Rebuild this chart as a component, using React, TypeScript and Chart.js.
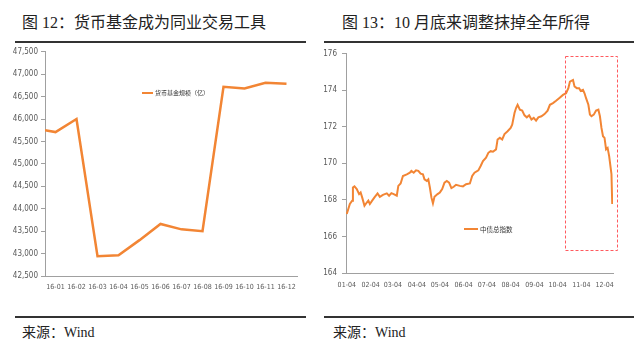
import React, { useEffect, useRef } from 'react';
import { Chart, registerables } from 'chart.js';

Chart.register(...registerables);

// ---------- Figure 12: money-fund size ----------
const fundMonths = ['16-01', '16-02', '16-03', '16-04', '16-05', '16-06', '16-07', '16-08', '16-09', '16-10', '16-11', '16-12'];
const fundStartValue = 45750; // value where the line meets the y axis
const fundValues = [45710, 46000, 42940, 42960, 43300, 43660, 43540, 43500, 46720, 46680, 46810, 46790];
const fundYMin = 42500;
const fundYMax = 47500;
const fundYStep = 500;
const fundLegend = '货币基金规模（亿）';

// ---------- Figure 13: ChinaBond composite index ----------
const bondTickDays = [0, 31, 60, 91, 121, 152, 182, 213, 244, 274, 305, 335];
const bondTickLabels = ['01-04', '02-04', '03-04', '04-04', '05-04', '06-04', '07-04', '08-04', '09-04', '10-04', '11-04', '12-04'];
// days after 2016-01-04
const bondDays = [
  0, 2, 4, 7, 8, 10, 13, 16, 18, 20, 23, 26, 28, 30, 33, 36, 40, 43, 47, 52,
  55, 58, 61, 65, 67, 70, 73, 78, 82, 84, 87, 90, 93, 96, 99, 101, 104, 106, 108, 110,
  112, 114, 118, 121, 124, 127, 130, 133, 136, 139, 142, 147, 151, 155, 160, 163, 166, 171, 174, 177,
  181, 184, 187, 190, 194, 196, 199, 202, 205, 209, 213, 215, 218, 220, 222, 225, 228, 231, 234, 237,
  240, 243, 246, 249, 253, 257, 261, 264, 268, 272, 276, 281, 285, 288, 290, 294, 296, 299, 302, 304,
  307, 309, 311, 314, 316, 318, 321, 324, 327, 329, 331, 333, 335, 337, 339, 341, 344, 345,
];
const bondValues = [
  167.23, 167.5, 167.78, 167.96, 168.68, 168.74, 168.6, 168.32, 168.41, 168.14, 167.68, 167.86, 167.96, 167.78, 167.96, 168.14, 168.36, 168.17, 168.28, 168.36,
  168.23, 168.37, 168.32, 168.23, 168.77, 168.9, 169.31, 169.4, 169.49, 169.59, 169.49, 169.62, 169.59, 169.44, 169.4, 169.13, 169.04, 169.13, 168.68, 168.14,
  167.81, 168.17, 168.32, 168.41, 168.59, 168.95, 169.04, 168.95, 168.65, 168.72, 168.83, 168.77, 168.74, 168.86, 168.9, 169.31, 169.49, 169.62, 169.86, 170.13,
  170.31, 170.58, 170.67, 170.64, 170.77, 171.31, 171.4, 171.31, 171.61, 171.76, 171.94, 172.12, 172.76, 173.03, 173.21, 172.94, 172.89, 172.63, 172.52, 172.63,
  172.4, 172.49, 172.34, 172.52, 172.58, 172.7, 172.89, 173.21, 173.3, 173.43, 173.57, 173.75, 173.84, 174.12, 174.48, 174.57, 174.21, 174.12, 174.12, 173.97,
  174.03, 173.84, 173.57, 173.21, 172.67, 172.58, 172.67, 172.89, 172.94, 172.58, 171.94, 171.49, 171.4, 170.77, 170.85, 170.4, 169.41, 167.78,
];
const bondYMin = 164;
const bondYMax = 176;
const bondYStep = 2;
const bondXMin = -1;
const bondXMax = 346;
const bondLegend = '中债总指数';
// highlighted period (data units)
const highlightDays = [284, 351];
const highlightValues = [165.3, 175.9];

const ORANGE = '#F28534';
const AXIS = '#A0A0A0';
const TEXT = '#595959';
const NARROW = "'Liberation Sans Narrow', 'DejaVu Sans Condensed', sans-serif";

const highlightBox = {
  id: 'highlightBox',
  afterDatasetsDraw(chart: any) {
    const { ctx, scales } = chart;
    const x0 = scales.x.getPixelForValue(highlightDays[0]);
    const x1 = scales.x.getPixelForValue(highlightDays[1]);
    const y0 = scales.y.getPixelForValue(highlightValues[1]);
    const y1 = scales.y.getPixelForValue(highlightValues[0]);
    ctx.save();
    ctx.strokeStyle = '#FF5A5F';
    ctx.lineWidth = 1;
    ctx.setLineDash([3, 2]);
    ctx.strokeRect(Math.round(x0) + 0.5, Math.round(y0) + 0.5, Math.round(x1 - x0), Math.round(y1 - y0));
    ctx.restore();
  },
};

export default function App() {
  const leftRef = useRef<HTMLCanvasElement>(null);
  const rightRef = useRef<HTMLCanvasElement>(null);

  useEffect(() => {
    const fundData = [{ x: 0, y: fundStartValue }, ...fundValues.map((v, i) => ({ x: i + 0.5, y: v }))];
    const left = new Chart(leftRef.current!, {
      type: 'line',
      data: {
        datasets: [{
          data: fundData,
          borderColor: ORANGE,
          borderWidth: 2.5,
          pointRadius: 0,
          tension: 0,
        }],
      },
      options: {
        animation: false,
        responsive: false,
        events: [],
        layout: { padding: { top: 7, right: 18, left: 0, bottom: 0 } },
        plugins: { legend: { display: false }, tooltip: { enabled: false } },
        scales: {
          x: {
            type: 'linear',
            min: 0,
            max: fundMonths.length,
            afterBuildTicks: (scale: any) => {
              scale.ticks = fundMonths.map((_, i) => ({ value: i + 0.5 }));
            },
            afterFit: (scale: any) => { scale.height = 24; },
            grid: { display: false, drawTicks: false },
            border: { display: true, color: AXIS, width: 1 },
            ticks: {
              autoSkip: false,
              maxRotation: 0,
              padding: 7,
              color: TEXT,
              font: { family: NARROW, size: 7 },
              callback: (_v: any, i: number) => fundMonths[i],
            },
          },
          y: {
            min: fundYMin,
            max: fundYMax,
            afterFit: (scale: any) => { scale.width = 45; },
            grid: { display: true, drawOnChartArea: false, drawTicks: true, tickLength: 4, color: AXIS },
            border: { display: true, color: AXIS, width: 1 },
            ticks: {
              stepSize: fundYStep,
              padding: 3,
              color: TEXT,
              font: { family: NARROW, size: 8 },
              callback: (v: any) => Number(v).toLocaleString('en-US'),
            },
          },
        },
      },
    });

    const bondData = bondDays.map((d, i) => ({ x: d, y: bondValues[i] }));
    const right = new Chart(rightRef.current!, {
      type: 'line',
      data: {
        datasets: [{
          data: bondData,
          borderColor: ORANGE,
          borderWidth: 2,
          pointRadius: 0,
          tension: 0,
        }],
      },
      options: {
        animation: false,
        responsive: false,
        events: [],
        layout: { padding: { top: 8, right: 27, left: 0, bottom: 0 } },
        plugins: { legend: { display: false }, tooltip: { enabled: false } },
        scales: {
          x: {
            type: 'linear',
            min: bondXMin,
            max: bondXMax,
            afterBuildTicks: (scale: any) => {
              scale.ticks = bondTickDays.map((d) => ({ value: d }));
            },
            afterFit: (scale: any) => { scale.height = 27; },
            grid: { display: false, drawTicks: false },
            border: { display: true, color: AXIS, width: 1 },
            ticks: {
              autoSkip: false,
              maxRotation: 0,
              padding: 8,
              color: TEXT,
              font: { family: NARROW, size: 7 },
              callback: (_v: any, i: number) => bondTickLabels[i],
            },
          },
          y: {
            min: bondYMin,
            max: bondYMax,
            afterFit: (scale: any) => { scale.width = 26; },
            grid: { display: true, drawOnChartArea: false, drawTicks: true, tickLength: 4, color: AXIS },
            border: { display: true, color: AXIS, width: 1 },
            ticks: {
              stepSize: bondYStep,
              padding: 5,
              color: TEXT,
              font: { family: NARROW, size: 8 },
            },
          },
        },
      },
      plugins: [highlightBox],
    });

    return () => {
      left.destroy();
      right.destroy();
    };
  }, []);

  const titleStyle: React.CSSProperties = {
    position: 'absolute',
    top: 12,
    fontFamily: "'Liberation Serif', 'Noto Sans CJK SC', serif",
    fontSize: 16,
    lineHeight: '22px',
    color: '#222',
    whiteSpace: 'nowrap',
  };
  const ruleStyle: React.CSSProperties = { position: 'absolute', height: 2, background: '#333' };
  const sourceStyle: React.CSSProperties = {
    position: 'absolute',
    top: 323,
    fontFamily: "'Liberation Serif', 'Noto Sans CJK SC', serif",
    fontSize: 14,
    lineHeight: '20px',
    color: '#222',
    whiteSpace: 'nowrap',
  };
  const legendText: React.CSSProperties = {
    position: 'absolute',
    fontFamily: "'Noto Sans CJK SC', sans-serif",
    fontSize: 6,
    lineHeight: '8px',
    color: '#333',
    whiteSpace: 'nowrap',
  };

  return (
    <div style={{ position: 'fixed', left: 0, top: 0, width: 640, height: 351, background: '#fff', overflow: 'hidden' }}>
      <div style={{ ...titleStyle, left: 22 }}>图 12：货币基金成为同业交易工具</div>
      <div style={{ ...titleStyle, left: 342 }}>图 13：10 月底来调整抹掉全年所得</div>
      <div style={{ ...ruleStyle, left: 15, top: 41, width: 291 }} />
      <div style={{ ...ruleStyle, left: 324, top: 41, width: 310 }} />

      <canvas ref={leftRef} width={315} height={256} style={{ position: 'absolute', left: 0, top: 44, width: 315, height: 256 }} />
      <canvas ref={rightRef} width={320} height={256} style={{ position: 'absolute', left: 320, top: 44, width: 320, height: 256 }} />

      <div style={{ position: 'absolute', left: 142, top: 92, width: 11, height: 2, background: ORANGE }} />
      <div style={{ ...legendText, left: 155, top: 89 }}>{fundLegend}</div>
      <div style={{ position: 'absolute', left: 464, top: 228, width: 14, height: 2, background: ORANGE }} />
      <div style={{ ...legendText, left: 480, top: 225, fontSize: 6.5 }}>{bondLegend}</div>

      <div style={{ ...ruleStyle, left: 15, top: 316, width: 291 }} />
      <div style={{ ...ruleStyle, left: 324, top: 316, width: 310 }} />
      <div style={{ ...sourceStyle, left: 22 }}>来源：Wind</div>
      <div style={{ ...sourceStyle, left: 333 }}>来源：Wind</div>
    </div>
  );
}
